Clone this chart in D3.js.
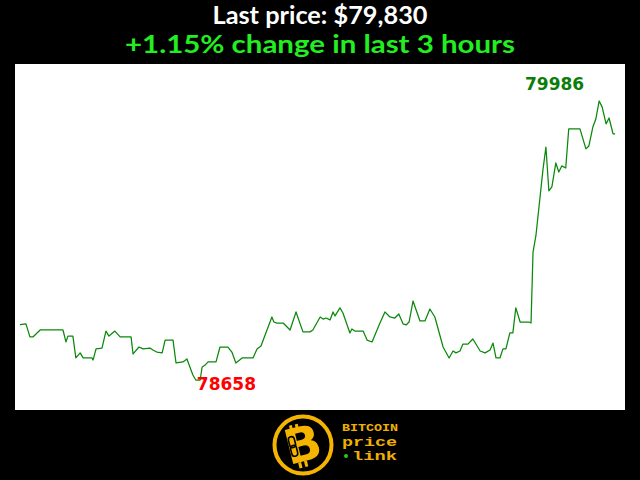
<!DOCTYPE html>
<html><head><meta charset="utf-8">
<script src="https://cdn.jsdelivr.net/npm/d3@7"></script>
<style>
html,body{margin:0;padding:0;background:#000;}
svg{display:block;}
</style></head>
<body>
<script>
// ---- data ----
const titleLine1 = "Last price: $79,830";
const titleLine2 = "+1.15% change in last 3 hours";
// minutes into the 3-hour window
const minutes = [0,1.8,3.0,3.9,6.1,13.0,13.9,14.5,16.0,16.9,18.2,19.1,21.8,22.1,23.0,24.8,26.0,26.9,28.7,30.3,
33.6,34.2,36.0,37.2,39.3,40.2,41.4,43.0,43.9,46.3,47.2,49.3,50.5,52.3,53.2,54.5,55.1,56.0,56.9,59.3,
60.5,62.9,64.1,65.3,67.2,70.5,71.7,72.9,76.2,76.8,77.7,79.6,81.7,83.5,85.6,87.7,88.6,90.8,91.7,92.6,
93.8,94.7,95.3,96.8,97.7,99.8,100.4,101.3,103.8,105.0,106.5,108.9,110.4,111.9,113.4,114.6,115.9,116.8,117.7,118.9,
121.0,122.5,124.0,125.5,128.0,129.8,131.0,131.9,133.1,134.0,135.5,137.0,139.2,140.7,142.2,143.1,144.0,145.2,146.1,147.0,
148.2,149.1,150.0,151.3,154.0,154.6,155.2,156.1,158.2,159.1,160.0,160.9,162.1,163.0,163.9,165.1,166.0,169.4,171.2,172.1,
173.3,174.2,175.2,176.1,177.3,178.2,179.4,180];
const prices = [78922,78925,78863,78863,78896,78896,78839,78867,78867,78763,78787,78763,78763,78753,78806,78810,78891,78867,78891,78863,
78863,78782,78815,78806,78810,78801,78791,78787,78848,78848,78739,78744,78758,78682,78658,78658,78720,78729,78744,78744,
78815,78815,78791,78739,78763,78763,78806,78820,78958,78934,78929,78929,78896,78982,78887,78887,78896,78958,78948,78953,
78944,78982,78963,79001,78977,78882,78901,78891,78891,78848,78839,78929,78982,78958,78953,78972,78925,78920,78934,79034,
78939,78939,78996,78958,78815,78763,78796,78787,78796,78829,78829,78853,78796,78787,78801,78834,78763,78763,78806,78806,
78882,78882,79001,78934,78934,78929,79267,79348,79658,79767,79558,79577,79691,79648,79677,79667,79853,79853,79758,79772,
79862,79900,79986,79958,79877,79905,79830,79830];
const logoWords = ["BITCOIN","price","link"];

// ---- layout ----
const W = 640, H = 480;
const plot = {x:15, y:64, w:610, h:346};
const svg = d3.select("body").append("svg").attr("width",W).attr("height",H);
svg.append("rect").attr("width",W).attr("height",H).attr("fill","#000");

const titleFont = "Lato,'Open Sans','DejaVu Sans',sans-serif";
svg.append("text").attr("x",320).attr("y",24).attr("text-anchor","middle")
  .attr("font-family",titleFont).attr("font-weight","bold").attr("font-size",24)
  .attr("textLength",215).attr("lengthAdjust","spacingAndGlyphs")
  .attr("fill","#fff").text(titleLine1);
svg.append("text").attr("x",320).attr("y",53).attr("text-anchor","middle")
  .attr("font-family",titleFont).attr("font-weight","bold").attr("font-size",24.5)
  .attr("textLength",390).attr("lengthAdjust","spacingAndGlyphs")
  .attr("fill","#22ee22").text(titleLine2);

svg.append("rect").attr("x",plot.x).attr("y",plot.y).attr("width",plot.w).attr("height",plot.h).attr("fill","#fff");

const data = minutes.map((m,i)=>({t:m, p:prices[i]}));
const x = d3.scaleLinear().domain([0,180]).range([plot.x+5, plot.x+plot.w-10]);
const y = d3.scaleLinear().domain([d3.min(prices), d3.max(prices)]).range([plot.y+plot.h-30, plot.y+37]);

svg.append("path").datum(data)
  .attr("fill","none").attr("stroke","#0a880a").attr("stroke-width",1.25)
  .attr("stroke-linejoin","round")
  .attr("d", d3.line().x(d=>x(d.t)).y(d=>y(d.p)));

const minD = data.reduce((a,b)=>b.p<a.p?b:a);
const maxD = data.reduce((a,b)=>b.p>a.p?b:a);
svg.append("text").attr("x",x(minD.t)+1).attr("y",y(minD.p)+10)
  .attr("font-family","'DejaVu Sans',sans-serif").attr("font-weight","bold").attr("font-size",17)
  .attr("fill","#ff0000").text(minD.p);
svg.append("text").attr("x",x(maxD.t)-15).attr("y",y(maxD.p)-11).attr("text-anchor","end")
  .attr("font-family","'DejaVu Sans',sans-serif").attr("font-weight","bold").attr("font-size",17)
  .attr("fill","#0a7d0a").text(maxD.p);

// ---- logo ----
const gold = "#f5b400";
const lg = svg.append("g").attr("transform","translate(303,445)");
lg.append("circle").attr("r",28.5).attr("fill","none").attr("stroke",gold).attr("stroke-width",4);
const bg = lg.append("g").attr("transform","rotate(-14)");
bg.append("rect").attr("x",-9).attr("y",-22).attr("width",3).attr("height",6).attr("fill",gold);
bg.append("rect").attr("x",-3).attr("y",-22).attr("width",3).attr("height",6).attr("fill",gold);
bg.append("rect").attr("x",-9).attr("y",16).attr("width",3).attr("height",6).attr("fill",gold);
bg.append("rect").attr("x",-3).attr("y",16).attr("width",3).attr("height",6).attr("fill",gold);
bg.append("text").attr("x",0).attr("y",16).attr("text-anchor","middle")
  .attr("font-family","'DejaVu Sans',sans-serif").attr("font-weight","bold").attr("font-size",48)
  .attr("fill",gold).text("B");
bg.append("rect").attr("x",-13).attr("y",-11).attr("width",6).attr("height",11).attr("rx",3)
  .attr("fill","none").attr("stroke","#000").attr("stroke-width",1.6);
bg.append("rect").attr("x",-13).attr("y",-2).attr("width",6).attr("height",11).attr("rx",3)
  .attr("fill","none").attr("stroke","#000").attr("stroke-width",1.6);

const mono = "'Liberation Mono','DejaVu Sans Mono',monospace";
const tg = svg.append("g");
tg.append("text").attr("x",342).attr("y",431).attr("font-family",mono).attr("font-weight","bold")
  .attr("font-size",11).attr("fill","#f0b000").attr("textLength",56).attr("lengthAdjust","spacingAndGlyphs").text(logoWords[0]);
tg.append("text").attr("x",342).attr("y",446).attr("font-family",mono).attr("font-weight","bold")
  .attr("font-size",12).attr("fill","#f0b000").attr("textLength",55).attr("lengthAdjust","spacingAndGlyphs").text(logoWords[1]);
tg.append("circle").attr("cx",346).attr("cy",456).attr("r",2).attr("fill","#22cc22");
tg.append("text").attr("x",352).attr("y",460).attr("font-family",mono).attr("font-weight","bold")
  .attr("font-size",12).attr("fill","#f0b000").attr("textLength",45).attr("lengthAdjust","spacingAndGlyphs").text(logoWords[2]);
</script>
</body></html>
